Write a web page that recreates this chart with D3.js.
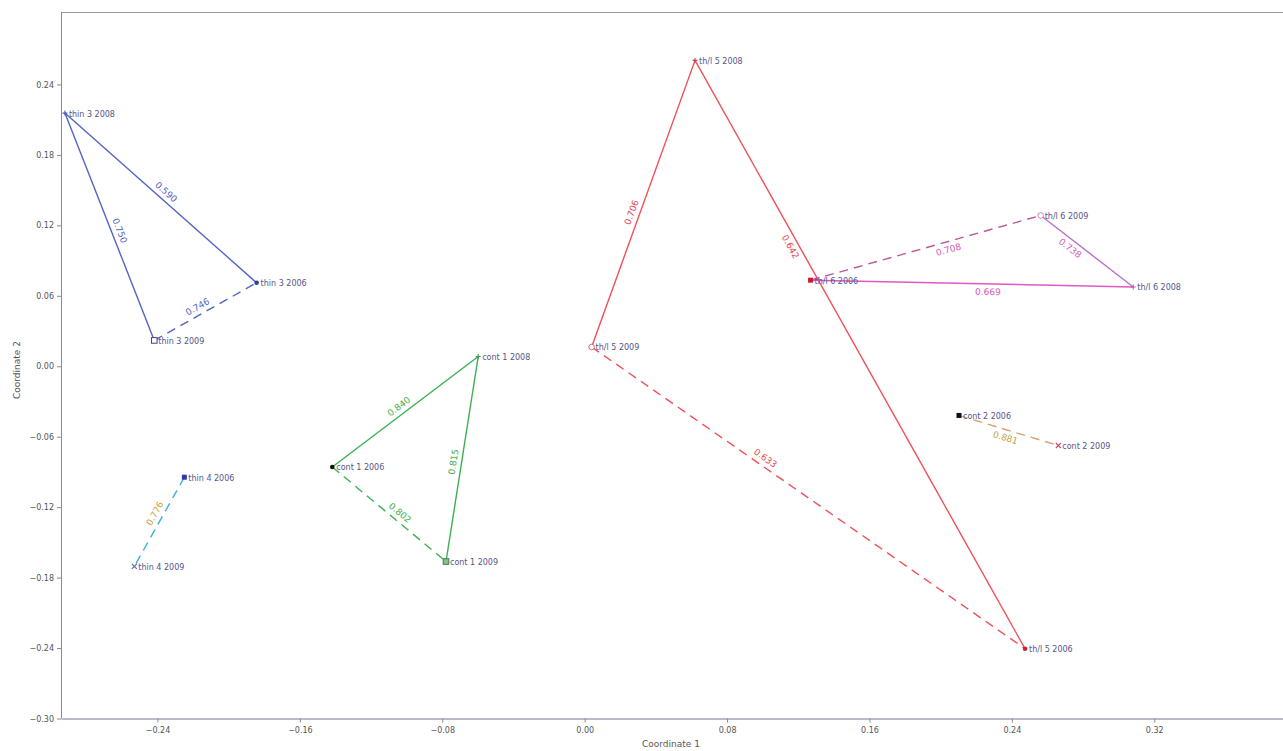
<!DOCTYPE html>
<html><head><meta charset="utf-8">
<script src="https://cdn.jsdelivr.net/npm/d3@7"></script>
<style>body{margin:0;background:#fff;overflow:hidden;} svg{display:block;}</style>
</head><body><svg id="c" width="1283" height="751"></svg>
<script>
// ---- data ----
const xTicks = [-0.24, -0.16, -0.08, 0.00, 0.08, 0.16, 0.24, 0.32];
const yTicks = [0.24, 0.18, 0.12, 0.06, 0.00, -0.06, -0.12, -0.18, -0.24, -0.30];
const pointNames = ["thin 3 2008","thin 3 2006","thin 3 2009","thin 4 2006","thin 4 2009",
  "cont 1 2008","cont 1 2006","cont 1 2009","th/l 5 2008","th/l 5 2009","th/l 5 2006",
  "th/l 6 2006","th/l 6 2009","th/l 6 2008","cont 2 2006","cont 2 2009"];
const coord1 = [-0.2920,-0.1843,-0.2418,-0.2249,-0.2530,-0.0598,-0.1418,-0.0779,
  0.0620,0.0039,0.2474,0.1269,0.2562,0.3082,0.2103,0.2661];
const coord2 = [0.2156,0.0711,0.0220,-0.0945,-0.1705,0.0083,-0.0858,-0.1663,
  0.2605,0.0164,-0.2406,0.0733,0.1284,0.0675,-0.0419,-0.0675];
const edgeFrom  = [0,0,2, 3, 6,5,6, 9,8,9, 11,12,11, 14];
const edgeTo    = [1,2,1, 4, 5,7,7, 8,10,10, 12,13,13, 15];
const edgeValue = [0.590,0.750,0.746, 0.776, 0.840,0.815,0.802, 0.706,0.642,0.633, 0.708,0.738,0.669, 0.881];

// ---- styles ----
const pointSymbol = ["plus","dot","openSquare","square","x","plus","dot","greenSquare",
  "plus","openCircle","dot","square","openCircle","plus","square","x"];
const pointColor = ["#4a5cc0","#3040a0","#3a4090","#3038a8","#5a60b0","#3a9a50","#111111","#4a7a4a",
  "#c04060","#d07070","#d02030","#d01838","#d080b0","#c060a0","#111111","#c05070"];
const edgeDashed = [false,false,true, true, false,false,true, false,false,true, true,false,false, true];
const edgeColor  = ["#5264c4","#5264c4","#5264c4", "#38b4d8", "#3cb050","#3cb050","#3cb050",
  "#f05056","#f05056","#f05056", "#b8589a","#b870c8","#e058c4", "#d8a070"];
const labelColor = ["#5264c4","#5264c4","#5264c4", "#c8a040", "#3cb050","#3cb050","#3cb050",
  "#e84850","#e84850","#e84850", "#d858b8","#d858b8","#d858b8", "#c8a040"];
const labelAt    = [0.50,0.53,0.46, 0.45, 0.49,0.52,0.55, 0.46,0.31,0.39, 0.59,0.37,0.55, 0.49];
const labelSide  = [-1,-1,-1, -1, -1,-1,-1, -1,1,-1, 1,1,1, 1];

// ---- scales ----
const svg = d3.select("#c");
const x = d3.scaleLinear().domain([-0.2942, 0.40]).range([61, 61 + 0.6942 * 1780]);
const y = d3.scaleLinear().domain([-0.30, 0.30]).range([718.5, 14]);

// frame
svg.append("line").attr("x1",61).attr("x2",1283).attr("y1",12.5).attr("y2",12.5)
  .attr("stroke","#9a9a9a").attr("stroke-width",1);

// axes
const yAxis = svg.append("g").attr("transform","translate(61,0)")
  .call(d3.axisLeft(y).tickValues(yTicks).tickFormat(d3.format(".2f")).tickSize(4).tickSizeOuter(0));
yAxis.select(".domain").attr("stroke","#8a8a8a").attr("d","M0.5,12.5V718.5");
const xAxis = svg.append("g").attr("transform","translate(0,718.5)")
  .call(d3.axisBottom(x).tickValues(xTicks).tickFormat(d3.format(".2f")).tickSize(4).tickSizeOuter(0));
xAxis.select(".domain").attr("stroke","#a8a0b8").attr("stroke-width",1.4);
svg.selectAll(".tick line").attr("stroke","#8a8a8a");
svg.selectAll(".tick text").attr("fill","#555").style("font-family","DejaVu Sans").style("font-size","8px");
yAxis.selectAll(".tick text").attr("x",-7);
xAxis.selectAll(".tick text").attr("y",9);

svg.append("text").attr("x",671).attr("y",747).attr("text-anchor","middle")
  .style("font-family","DejaVu Sans").style("font-size","9px").attr("fill","#555").text("Coordinate 1");
svg.append("text").attr("transform","translate(20,370) rotate(-90)").attr("text-anchor","middle")
  .style("font-family","DejaVu Sans").style("font-size","9px").attr("fill","#555").text("Coordinate 2");

// edges
const edges = edgeFrom.map((f,i)=>({f, t: edgeTo[i], v: edgeValue[i], i}));
const eg = svg.append("g");
eg.selectAll("line").data(edges).join("line")
  .attr("x1",d=>x(coord1[d.f])).attr("y1",d=>y(coord2[d.f]))
  .attr("x2",d=>x(coord1[d.t])).attr("y2",d=>y(coord2[d.t]))
  .attr("stroke",d=>edgeColor[d.i]).attr("stroke-width",1.4)
  .attr("stroke-dasharray",d=>edgeDashed[d.i] ? "9,6" : null);

eg.selectAll("text").data(edges).join("text")
  .attr("transform", d=>{
    const x1=x(coord1[d.f]), y1=y(coord2[d.f]), x2=x(coord1[d.t]), y2=y(coord2[d.t]);
    const k = labelAt[d.i];
    const px = x1 + (x2-x1)*k, py = y1 + (y2-y1)*k;
    let a = Math.atan2(y2-y1, x2-x1) * 180/Math.PI;
    if (a > 90) a -= 180; if (a < -90) a += 180;
    return `translate(${px},${py}) rotate(${a}) translate(0,${labelSide[d.i] * 8})`;
  })
  .attr("text-anchor","middle").attr("dominant-baseline","central")
  .style("font-family","DejaVu Sans").style("font-size","9px")
  .attr("fill",d=>labelColor[d.i]).text(d=>d.v.toFixed(3));

// points
const pg = svg.append("g");
pointNames.forEach((name,i)=>{
  const cx = x(coord1[i]), cy = y(coord2[i]), c = pointColor[i], s = pointSymbol[i];
  const g = pg.append("g").attr("transform",`translate(${cx},${cy})`);
  if (s==="plus") {
    g.append("path").attr("d","M-2.5,0H2.5M0,-2.5V2.5").attr("stroke",c).attr("stroke-width",1.1);
  } else if (s==="x") {
    g.append("path").attr("d","M-2.5,-2.5L2.5,2.5M-2.5,2.5L2.5,-2.5").attr("stroke",c).attr("stroke-width",1.1);
  } else if (s==="dot") {
    g.append("circle").attr("r",2.3).attr("fill",c);
  } else if (s==="openCircle") {
    g.append("circle").attr("r",2.8).attr("fill","#fff").attr("stroke",c).attr("stroke-width",1);
  } else if (s==="openSquare") {
    g.append("rect").attr("x",-2.8).attr("y",-2.8).attr("width",5.6).attr("height",5.6)
      .attr("fill","#fff").attr("stroke",c).attr("stroke-width",1);
  } else if (s==="greenSquare") {
    g.append("rect").attr("x",-2.8).attr("y",-2.8).attr("width",5.6).attr("height",5.6)
      .attr("fill","#8ac08a").attr("stroke",c).attr("stroke-width",1);
  } else {
    g.append("rect").attr("x",-2.5).attr("y",-2.5).attr("width",5).attr("height",5).attr("fill",c);
  }
  pg.append("text").attr("x",cx+4).attr("y",cy+1).attr("dominant-baseline","central")
    .style("font-family","DejaVu Sans").style("font-size","8px").attr("fill","#55558a").text(name);
});
</script></body></html>
